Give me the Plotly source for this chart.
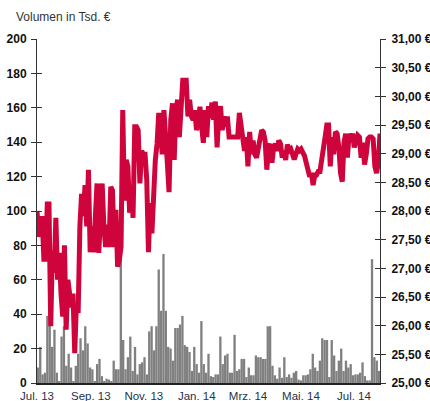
import pandas as pd
import plotly.graph_objects as go

# Share price in EUR (right axis), sampled left to right
price = [
    28.00, 27.55, 27.70, 27.91, 27.16, 27.16, 28.12, 28.12, 25.99, 27.31,
    26.92, 27.88, 26.80, 27.27, 26.56, 26.16, 27.40, 25.93, 26.80, 26.56,
    26.32, 26.56, 25.52, 26.40, 26.22, 27.73, 28.30, 27.91, 28.45, 27.73,
    28.72, 27.28, 27.73, 27.28, 27.91, 28.48, 27.27, 27.91, 28.48, 27.73,
    27.37, 27.76, 27.37, 28.42, 28.36, 27.37, 28.02, 27.03, 27.15, 27.37,
    29.76, 28.18,
    28.89, 28.78, 27.97, 28.42, 27.88, 29.47, 29.47, 29.41, 28.48, 29.05,
    28.99, 28.99, 28.54, 27.28, 28.14, 27.61, 28.30, 28.89, 29.17, 29.71,
    29.47, 28.99, 29.76, 29.11, 28.84, 28.33, 29.59, 29.88, 28.89, 29.76,
    29.94, 29.29, 29.89, 30.28, 30.28, 30.28, 29.65, 29.94, 29.65, 29.59,
    29.76, 29.41, 29.53, 29.82, 29.47, 29.19, 29.76,
    29.29, 29.83, 29.62, 29.89, 29.59, 29.91, 29.11, 29.65, 29.83, 29.41,
    29.65, 29.47, 29.65, 29.29, 29.29, 29.29, 29.29, 29.29, 29.29, 29.71,
    29.47, 29.35, 29.05, 29.29, 28.78, 29.38, 28.99, 29.23, 28.99, 28.93,
    29.08, 29.29, 29.41, 29.38, 29.23, 28.72, 29.11, 29.17, 28.84, 29.11,
    29.17, 29.05, 29.23, 29.17, 28.93, 29.05, 28.89, 29.16, 29.05, 29.08,
    28.96,
    28.90, 28.99, 29.08, 29.05, 29.08, 29.02, 28.96, 28.84, 28.72, 28.60,
    28.66, 28.45, 28.63, 28.63, 28.69, 28.69, 28.89, 29.19, 29.29, 29.50,
    29.50, 28.78, 29.29, 28.99, 29.38, 29.35, 29.11, 28.66, 28.51, 29.19,
    29.35, 28.93, 29.35, 29.23, 29.35, 29.11, 29.23, 29.32, 29.29, 28.93,
    29.19, 28.81, 28.99, 29.26, 29.29, 29.29, 29.26, 28.78, 28.66, 28.84,
    29.35,
]

# Trading volume in thousand EUR (left axis)
volume = [
    9, 21, 5, 6, 39, 35, 21, 31, 6, 1, 27, 33, 10, 17, 9, 1, 10, 17, 26, 19,
    33, 23, 9, 8, 1, 11, 14, 4, 1, 2.5, 2, 1, 13, 8, 8, 80, 25, 8, 15, 27,
    7, 21, 5, 11, 12, 15, 5, 30, 33, 19, 33, 66, 42, 75, 42, 21, 20, 13, 32, 32,
    34, 39, 22, 21, 18, 7, 21, 11, 6, 36, 11, 6, 17, 4, 3.5, 5,
    5, 27, 11, 16, 17, 6, 6, 28, 7, 8, 14, 14, 3.5, 9, 4.5, 4.5, 16, 15, 15, 14,
    14, 33, 33, 10, 4.5, 2.5, 9, 3, 15, 3.5, 5, 3, 6, 7, 2, 1.5, 4.5, 4.5, 5, 8,
    17, 9, 7, 13, 26, 25, 25, 3.5, 25, 16, 7, 13, 20, 7, 13, 9, 11, 4.5, 5, 5,
    6, 12, 4, 1.5, 1.5, 72, 15, 13, 7,
]

x_start, x_end = "2013-07-01", "2014-07-31"
x_tickvals = ["2013-07-01", "2013-09-01", "2013-11-01", "2014-01-01",
              "2014-03-01", "2014-05-01", "2014-07-01"]
x_ticktext = ["Jul. 13", "Sep. 13", "Nov. 13", "Jan. 14", "Mrz. 14", "Mai. 14", "Jul. 14"]

vol_ticks = [0, 20, 40, 60, 80, 100, 120, 140, 160, 180, 200]
price_ticks = [25.0, 25.5, 26.0, 26.5, 27.0, 27.5, 28.0, 28.5, 29.0, 29.5, 30.0, 30.5, 31.0]
price_ticktext = ["25,00 €", "25,50 €", "26,00 €", "26,50 €", "27,00 €", "27,50 €", "28,00 €",
                  "28,50 €", "29,00 €", "29,50 €", "30,00 €", "30,50 €", "31,00 €"]

price_dates = pd.date_range(x_start, x_end, periods=len(price))
vol_dates = pd.date_range("2013-07-02", "2014-07-30", periods=len(volume))

FONT = "Liberation Sans, Arial, sans-serif"

fig = go.Figure()
fig.add_trace(go.Bar(x=vol_dates, y=volume, marker=dict(color="#808080", line=dict(width=0)),
                     yaxis="y", showlegend=False))
fig.add_trace(go.Scatter(x=price_dates, y=price, mode="lines",
                         line=dict(color="#D0043C", width=5, shape="linear"),
                         yaxis="y2", showlegend=False))
# helper traces so the inside-tick overlay axes render
fig.add_trace(go.Scatter(x=[price_dates[0]], y=[None], yaxis="y3", showlegend=False, hoverinfo="skip"))
fig.add_trace(go.Scatter(x=[price_dates[0]], y=[None], yaxis="y4", showlegend=False, hoverinfo="skip"))

fig.update_layout(
    width=430, height=401,
    margin=dict(l=37, r=50, t=39, b=18, autoexpand=False),
    paper_bgcolor="white", plot_bgcolor="white",
    font=dict(family=FONT, size=12, color="#222"),
    bargap=0.02,
    xaxis=dict(type="date", range=[x_start, x_end], tickvals=x_tickvals, ticktext=x_ticktext,
               showgrid=False, zeroline=False, showline=True, linecolor="#222", linewidth=2,
               ticks="", ticklabelstandoff=1, automargin=False,
               tickfont=dict(size=11.5, color="#26324a"), fixedrange=True),
    yaxis=dict(range=[0, 200], tickvals=vol_ticks, showgrid=False, zeroline=False,
               showline=True, linecolor="#333", linewidth=1, ticks="outside", ticklen=5,
               tickcolor="#333", automargin=False, ticklabelstandoff=2,
               tickfont=dict(size=12, color="#111", weight="bold")),
    yaxis2=dict(range=[25, 31], tickvals=price_ticks, ticktext=price_ticktext,
                overlaying="y", side="right", showgrid=False, zeroline=False,
                showline=True, linecolor="#333", linewidth=1, ticks="outside", ticklen=5,
                tickcolor="#333", automargin=False, ticklabelstandoff=3,
                tickfont=dict(size=12, color="#111", weight="bold")),
    yaxis3=dict(range=[0, 200], tickvals=vol_ticks, overlaying="y", side="left",
                showgrid=False, zeroline=False, showline=False, ticks="inside", ticklen=5,
                tickcolor="#333", showticklabels=False, automargin=False),
    yaxis4=dict(range=[25, 31], tickvals=price_ticks, overlaying="y", side="right",
                showgrid=False, zeroline=False, showline=False, ticks="inside", ticklen=5,
                tickcolor="#333", showticklabels=False, automargin=False),
    annotations=[dict(text="Volumen in Tsd. €", xref="paper", yref="paper",
                      x=-23 / 343, y=1 + 22 / 344, xanchor="left", yanchor="middle",
                      showarrow=False, font=dict(size=12, color="#333", family=FONT))],
)

fig.write_html("out.html", config={"displayModeBar": False},
               post_script="document.body.style.margin='0';document.body.style.overflow='hidden';")
